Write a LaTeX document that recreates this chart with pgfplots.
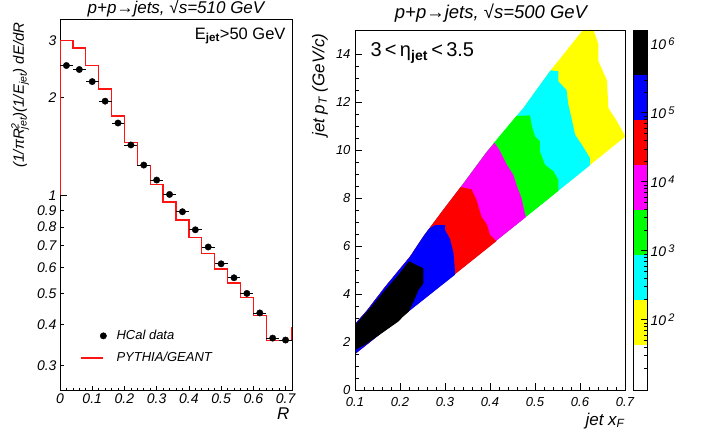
\documentclass[border=0pt]{standalone}
\usepackage{fontspec}
\setmainfont{Liberation Sans}
\usepackage{pgfplots}
\pgfplotsset{compat=1.18}
\newcommand{\fs}[1]{\fontsize{#1}{#1}\selectfont}
\definecolor{rootred}{RGB}{255,20,20}
\definecolor{cY}{RGB}{255,255,0}
\definecolor{cC}{RGB}{0,255,255}
\definecolor{cG}{RGB}{0,255,0}
\definecolor{cM}{RGB}{255,0,255}
\definecolor{cR}{RGB}{255,0,0}
\definecolor{cB}{RGB}{0,0,255}
\definecolor{cK}{RGB}{0,0,0}
\begin{document}
\begin{tikzpicture}
\useasboundingbox (0,0) rectangle (703pt,437pt);

% ---------------- left panel ----------------
\begin{axis}[
  at={(60pt,47pt)}, anchor=south west, scale only axis,
  width=232pt, height=371pt,
  xmin=0, xmax=0.72, ymode=log, ymin=0.252, ymax=3.49,
  xtick={0,0.1,0.2,0.3,0.4,0.5,0.6,0.7},
  xticklabels={0,0.1,0.2,0.3,0.4,0.5,0.6,0.7},
  minor x tick num=4,
  ytick={0.3,0.4,0.5,0.6,0.7,0.8,0.9,1,2,3},
  yticklabels={0.3,0.4,0.5,0.6,0.7,0.8,0.9,1,2,3},
  minor ytick={},
  extra y ticks={1}, extra y tick labels={},
  extra y tick style={major tick length=7pt},
  tick align=inside, xtick pos=left, ytick pos=left,
  major tick length=4pt, minor tick length=2.5pt,
  tick style={black, line width=0.6pt},
  ticklabel style={font=\itshape\fs{14}},
  axis line style={line width=0.8pt},
  reverse legend,
  legend style={draw=none, fill=none, at={(0.075,0.172)}, anchor=north west,
    font=\itshape\fs{13}, row sep=7pt,
    /tikz/every odd column/.append style={column sep=8pt}},
  legend cell align=left,
]
\addplot[rootred, line width=1.4pt, const plot mark left,
  /pgfplots/legend image code/.code={\draw[draw=rootred, line width=1.5pt] (0pt,0pt) -- (22pt,0pt);}]
coordinates {
(0.00,1.0) (0.00,3.00) (0.04,2.84) (0.08,2.51) (0.12,2.125) (0.16,1.755)
(0.20,1.456) (0.24,1.234) (0.28,1.081) (0.32,0.954) (0.36,0.840)
(0.40,0.743) (0.44,0.662) (0.48,0.594) (0.52,0.538) (0.56,0.486)
(0.60,0.4265) (0.64,0.358) (0.68,0.358) (0.72,0.392) (0.76,0.392)
};
\addlegendentry{PYTHIA/GEANT}
\addplot[only marks, mark=*, mark size=3.2pt, black,
  error bars/.cd, x dir=both, x explicit, error mark=none,
  error bar style={line width=0.8pt, black},
  /pgfplots/legend image code/.code={\draw[black, mark=*, mark size=3.2pt] plot coordinates {(22pt,0pt)};}]
coordinates {
(0.02,2.51) +- (0.02,0)
(0.06,2.44) +- (0.02,0)
(0.10,2.24) +- (0.02,0)
(0.14,1.95) +- (0.02,0)
(0.18,1.67) +- (0.02,0)
(0.22,1.43) +- (0.02,0)
(0.26,1.24) +- (0.02,0)
(0.30,1.115) +- (0.02,0)
(0.34,1.007) +- (0.02,0)
(0.38,0.891) +- (0.02,0)
(0.42,0.784) +- (0.02,0)
(0.46,0.694) +- (0.02,0)
(0.50,0.616) +- (0.02,0)
(0.54,0.558) +- (0.02,0)
(0.58,0.4995) +- (0.02,0)
(0.62,0.435) +- (0.02,0)
(0.66,0.364) +- (0.02,0)
(0.70,0.359) +- (0.02,0)
};
\addlegendentry{HCal data}
\end{axis}

% ---------------- right panel ----------------
\begin{axis}[
  at={(355pt,47pt)}, anchor=south west, scale only axis,
  width=270pt, height=360pt,
  xmin=0.1, xmax=0.7, ymin=0, ymax=15,
  xtick={0.1,0.2,0.3,0.4,0.5,0.6,0.7},
  xticklabels={0.1,0.2,0.3,0.4,0.5,0.6,0.7},
  minor x tick num=4,
  ytick={0,2,4,6,8,10,12,14},
  yticklabels={0,2,4,6,8,10,12,14},
  minor y tick num=3,
  tick align=inside, xtick pos=left, ytick pos=left,
  major tick length=7pt, minor tick length=3.5pt,
  tick style={black, line width=0.6pt},
  ticklabel style={font=\itshape\fs{13}},
  xticklabel style={yshift=-4pt},
  yticklabel style={xshift=-1pt},
  axis line style={line width=0.8pt},
  axis on top,
]
% yellow (whole band)
\addplot[fill=cY, draw=none] coordinates {
(0.1,1.5) (0.7,10.55) (0.7,10.6) (0.68,11.26) (0.663,11.75) (0.66,12.9)
(0.641,13.7) (0.641,14.4) (0.63,15.0) (0.606,15.0) (0.604,14.94)
(0.533,13.28) (0.474,11.75) (0.415,10.43) (0.393,9.93) (0.341,8.61)
(0.293,7.43) (0.252,6.4) (0.222,5.55) (0.167,4.3) (0.126,3.3) (0.1,2.75)
} --cycle;
% cyan
\addplot[fill=cC, draw=none] coordinates {
(0.1,1.5) (0.622,9.36) (0.622,9.67) (0.604,10.22) (0.589,10.64) (0.581,11.33)
(0.574,11.9) (0.57,12.5) (0.552,12.86) (0.552,13.28) (0.535,13.32)
(0.533,13.28) (0.474,11.75) (0.415,10.43) (0.393,9.93) (0.341,8.61)
(0.293,7.43) (0.252,6.4) (0.222,5.55) (0.167,4.3) (0.126,3.3) (0.1,2.75)
} --cycle;
% green
\addplot[fill=cG, draw=none] coordinates {
(0.1,1.5) (0.552,8.3) (0.552,8.75) (0.541,9.11) (0.522,9.39) (0.511,9.94)
(0.511,10.36) (0.5,10.57) (0.493,11.0) (0.489,11.44) (0.459,11.42)
(0.415,10.43) (0.393,9.93) (0.341,8.61)
(0.293,7.43) (0.252,6.4) (0.222,5.55) (0.167,4.3) (0.126,3.3) (0.1,2.75)
} --cycle;
% magenta
\addplot[fill=cM, draw=none] coordinates {
(0.1,1.5) (0.48,7.21) (0.478,7.3) (0.47,8.0) (0.459,8.54) (0.452,8.96)
(0.437,9.4) (0.421,10.0) (0.41,10.3) (0.393,9.93) (0.341,8.61)
(0.293,7.43) (0.252,6.4) (0.222,5.55) (0.167,4.3) (0.126,3.3) (0.1,2.75)
} --cycle;
% red
\addplot[fill=cR, draw=none] coordinates {
(0.1,1.5) (0.414,6.2) (0.4,6.46) (0.393,6.9) (0.381,7.22) (0.37,7.92)
(0.359,8.36) (0.335,8.46)
(0.293,7.43) (0.252,6.4) (0.222,5.55) (0.167,4.3) (0.126,3.3) (0.1,2.75)
} --cycle;
% blue
\addplot[fill=cB, draw=none] coordinates {
(0.1,1.5) (0.322,4.8) (0.322,5.0) (0.319,5.7) (0.311,6.3) (0.3,6.67)
(0.3,6.875) (0.278,6.875) (0.265,6.73)
(0.252,6.4) (0.222,5.55) (0.167,4.3) (0.126,3.3) (0.1,2.75)
} --cycle;
% black
\addplot[fill=cK, draw=none] coordinates {
(0.1,1.67) (0.122,1.88) (0.159,2.36) (0.196,2.85) (0.207,3.06) (0.219,3.26)
(0.23,3.68) (0.241,4.17) (0.252,4.44) (0.252,5.07) (0.237,5.2) (0.222,5.35)
(0.219,5.35) (0.196,4.79) (0.167,4.17) (0.133,3.4) (0.1,2.7)
} --cycle;
\end{axis}

% ---------------- colour bar ----------------
\begin{axis}[
  at={(633pt,47pt)}, anchor=south west, scale only axis,
  width=14pt, height=360pt,
  xmin=0, xmax=1, ymode=log, ymin=9.55, ymax=1584893,
  xtick=\empty,
  ytick={100,1000,10000,100000,1000000},
  yticklabels={10\,\raisebox{4.5pt}{\fs{11}2},10\,\raisebox{4.5pt}{\fs{11}3},10\,\raisebox{4.5pt}{\fs{11}4},10\,\raisebox{4.5pt}{\fs{11}5},10\,\raisebox{4.5pt}{\fs{11}6}},
  minor ytick={20,30,40,50,60,70,80,90,200,300,400,500,600,700,800,900,
    2000,3000,4000,5000,6000,7000,8000,9000,20000,30000,40000,50000,60000,70000,80000,90000,
    200000,300000,400000,500000,600000,700000,800000,900000},
  yticklabel pos=right, ytick pos=right,
  tick align=inside, major tick length=6pt, minor tick length=3.5pt,
  tick style={black, line width=0.6pt},
  ticklabel style={font=\itshape\fs{14}},
  axis line style={line width=0.8pt},
  axis on top,
]
\addplot[fill=white, draw=none] coordinates {(0,9.55) (1,9.55) (1,42.9) (0,42.9)} --cycle;
\addplot[fill=cY, draw=none] coordinates {(0,42.9) (1,42.9) (1,192.8) (0,192.8)} --cycle;
\addplot[fill=cC, draw=none] coordinates {(0,192.8) (1,192.8) (1,866) (0,866)} --cycle;
\addplot[fill=cG, draw=none] coordinates {(0,866) (1,866) (1,3890) (0,3890)} --cycle;
\addplot[fill=cM, draw=none] coordinates {(0,3890) (1,3890) (1,17475) (0,17475)} --cycle;
\addplot[fill=cR, draw=none] coordinates {(0,17475) (1,17475) (1,78524) (0,78524)} --cycle;
\addplot[fill=cB, draw=none] coordinates {(0,78524) (1,78524) (1,352800) (0,352800)} --cycle;
\addplot[fill=cK, draw=none] coordinates {(0,352800) (1,352800) (1,1584893) (0,1584893)} --cycle;
\end{axis}

% ---------------- texts ----------------
\node[font=\itshape\fs{17}] at (176pt,428pt) {p+p→jets, √s=510 GeV};
\node[font=\itshape\fs{18.5}] at (491pt,424pt) {p+p→jets, √s=500 GeV};
\node[anchor=east, font=\fs{16.5}] at (289pt,401pt) {E\textsubscript{\bfseries jet}>50 GeV};
\node[anchor=west, font=\fs{20}] at (367pt,384pt) {3\,<\,η\textsubscript{\bfseries jet}\,<\,3.5};
\node[rotate=90, anchor=east, font=\itshape\fs{15}] at (20pt,418pt)
  {(1/πR\rlap{\textsuperscript{2}}\textsubscript{jet})(1/E\textsubscript{jet}) dE/dR};
\node[rotate=90, anchor=east, font=\itshape\fs{17}] at (320pt,407pt)
  {jet p\textsubscript{T} (GeV/c)};
\node[anchor=east, font=\itshape\fs{17}] at (293pt,23pt) {R};
\node[anchor=east, font=\itshape\fs{17}] at (628pt,16pt) {jet x\textsubscript{F}};
\end{tikzpicture}
\end{document}
